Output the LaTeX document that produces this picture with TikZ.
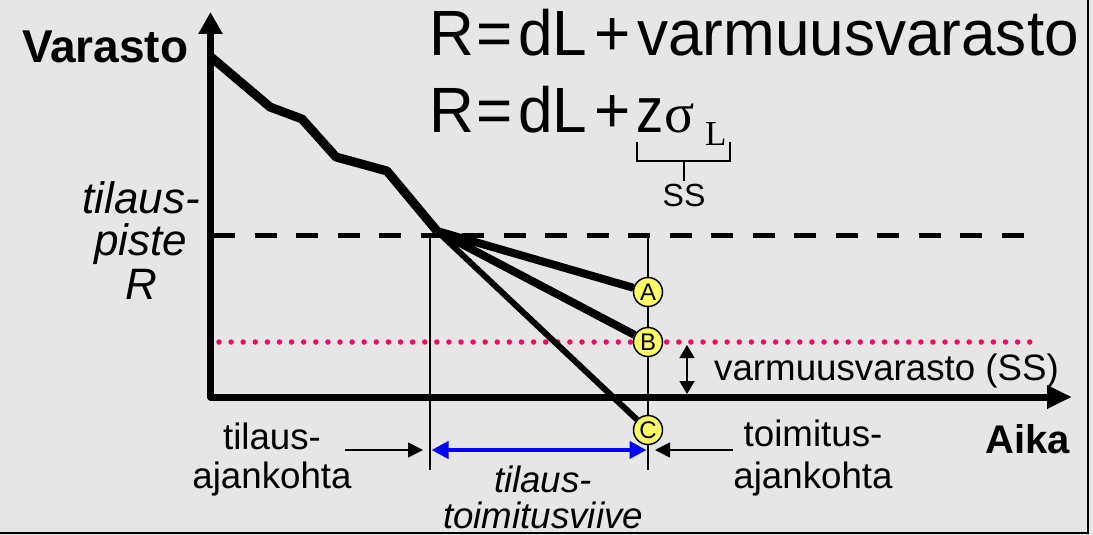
\documentclass[tikz,border=0pt]{standalone}
\usepackage{fontspec}
\setmainfont{Liberation Sans}
\newfontfamily\serifx{Liberation Serif}
\newfontfamily\eqf[FakeStretch=0.97]{Liberation Sans}
\newfontfamily\eqz[FakeStretch=0.85]{Liberation Sans}
\usetikzlibrary{arrows.meta}
\definecolor{bgc}{RGB}{230,230,230}
\definecolor{pinkc}{RGB}{255,0,102}
\definecolor{yellowc}{RGB}{255,255,102}
\pgfdeclarelayer{front}
\pgfsetlayers{main,front}
\begin{document}
\begin{tikzpicture}[x=1pt,y=-1pt,
  lbl/.style={inner sep=0pt, anchor=base, font=\fontsize{36.7}{40}\selectfont},
  ilbl/.style={lbl, font=\fontsize{36.7}{40}\selectfont\itshape},
  bigilbl/.style={lbl, font=\fontsize{44}{46}\selectfont\itshape},
  eqfont/.style={inner sep=0pt, anchor=base west, font=\fontsize{64}{66}\eqf},
  axisline/.style={line width=7pt, line join=round, {Triangle[length=22pt,width=23pt]}-{Triangle[length=25pt,width=22pt]}},
  stock/.style={line width=9pt, line join=round},
  thinline/.style={line width=1.5pt},
  blkarrow/.style={line width=1.5pt, -{Triangle[length=15pt,width=15pt]}},
  dblarrow/.style={line width=1.5pt, {Triangle[length=13pt,width=15pt]}-{Triangle[length=13pt,width=15pt]}},
  bluearrow/.style={blue, line width=4pt, {Triangle[length=17pt,width=17pt]}-{Triangle[length=17pt,width=17pt]}},
  pt/.style={circle, draw=black, line width=1.5pt, fill=yellowc, minimum size=29pt, inner sep=0pt, font=\fontsize{24}{24}\selectfont}
]
\useasboundingbox (0,0) rectangle (1093,535);
\fill[bgc] (0,0) rectangle (1093,535);
\draw[line width=2pt] (-5,-5) rectangle (1088,533);

% circles on front layer
\begin{pgfonlayer}{front}
\node[pt] (A) at (648,292) {A};
\node[pt] (B) at (648,342) {B};
\node[pt] (C) at (648,430) {C};
\end{pgfonlayer}

% reorder level (dashed) and safety stock (dotted)
\coordinate (d1) at (213,235);
\coordinate (d2) at (1032,235);
\draw[line width=5pt, dash pattern=on 22pt off 19.5pt] (d1) -- (d2);
\coordinate (s1) at (219,342);
\coordinate (s2) at (1036,342);
\draw[pinkc, line width=5.5pt, line cap=round, dash pattern=on 0pt off 12.1pt] (s1) -- (s2);

% vertical guide lines
\coordinate (v1t) at (430,238);
\coordinate (v1b) at (430,470);
\coordinate (v2t) at (648,238);
\coordinate (v2b) at (648,470);
\draw[thinline] (v1t) -- (v1b);
\draw[thinline] (v2t) -- (v2b);

% axes
\coordinate (ytop) at (210.5,12);
\coordinate (orig) at (210.5,397);
\coordinate (xend) at (1072,397);
\draw[axisline] (ytop) -- (orig) -- (xend);

% stock curve
\coordinate (p0) at (211,57);
\coordinate (p1) at (270,107);
\coordinate (p2) at (302,119);
\coordinate (p3) at (336,157);
\coordinate (p4) at (387,171);
\coordinate (O) at (437,231);
\draw[stock] (p0) -- (p1) -- (p2) -- (p3) -- (p4) -- (O);
\draw[line width=8pt] (O) -- (A);
\draw[line width=8pt] (O) -- (B);
\draw[line width=6pt] (O) -- (C);

% formulas
\node[eqfont] (r1) at (429,56) {R};
\node[eqfont] (e1) at (476,56) {=};
\node[eqfont] (dl1) at (518,56) {dL};
\node[eqfont] (p1s) at (594,56) {+};
\node[eqfont] (vv) at (637,56) {varmuusvarasto};
\node[eqfont] (r2) at (429,132) {R};
\node[eqfont] (e2) at (476,132) {=};
\node[eqfont] (dl2) at (518,132) {dL};
\node[eqfont] (p2s) at (594,132) {+};
\node[inner sep=0pt, anchor=base west, font=\fontsize{64}{66}\eqz] (z) at (636,132) {z};
\node[inner sep=0pt, anchor=base west, font=\fontsize{56}{56}\serifx] (sig) at (664,132) {σ};
\node[inner sep=0pt, anchor=base west, font=\fontsize{35}{35}\serifx] (Lsub) at (705,145) {L};
\coordinate (br1) at (637,142);
\coordinate (br2) at (637,161);
\coordinate (br3) at (730,161);
\coordinate (br4) at (730,142);
\coordinate (brm) at (684,161);
\coordinate (brs) at (684,181);
\draw[line width=1.6pt] (br1) -- (br2) -- (br3) -- (br4);
\draw[line width=1.6pt] (brm) -- (brs);
\node[inner sep=0pt, anchor=base, font=\fontsize{32}{32}\selectfont] (SS) at (684,206) {SS};

% axis titles
\node[inner sep=0pt, anchor=base west, font=\fontsize{46}{46}\selectfont\bfseries] (varasto) at (22,63) {Varasto};
\node[inner sep=0pt, anchor=base east, font=\fontsize{40}{40}\selectfont\bfseries] (aika) at (1070,453) {Aika};

% reorder point label
\node[bigilbl] (rp1) at (141,213) {tilaus-};
\node[bigilbl] (rp2) at (141,255) {piste};
\node[bigilbl] (rp3) at (141,299) {R};

% safety stock
\coordinate (ss1) at (687,345);
\coordinate (ss2) at (687,394);
\draw[dblarrow] (ss1) -- (ss2);
\node[lbl, anchor=base west] (sslbl) at (714,380) {varmuusvarasto (SS)};

% bottom labels
\node[lbl] (ta1) at (272,449) {tilaus-};
\node[lbl] (ta2) at (272,488) {ajankohta};
\node[ilbl] (tv1) at (543,492) {tilaus-};
\node[ilbl] (tv2) at (543,528) {toimitusviive};
\node[lbl] (to1) at (813,446) {toimitus-};
\node[lbl] (to2) at (813,488) {ajankohta};

\coordinate (la0) at (345,450);
\coordinate (la1) at (423,450);
\draw[blkarrow] (la0) -- (la1);
\coordinate (ra0) at (733,450);
\coordinate (ra1) at (655,450);
\draw[blkarrow] (ra0) -- (ra1);
\coordinate (b0) at (431.5,450);
\coordinate (b1) at (646.5,450);
\draw[bluearrow] (b0) -- (b1);
\end{tikzpicture}
\end{document}
